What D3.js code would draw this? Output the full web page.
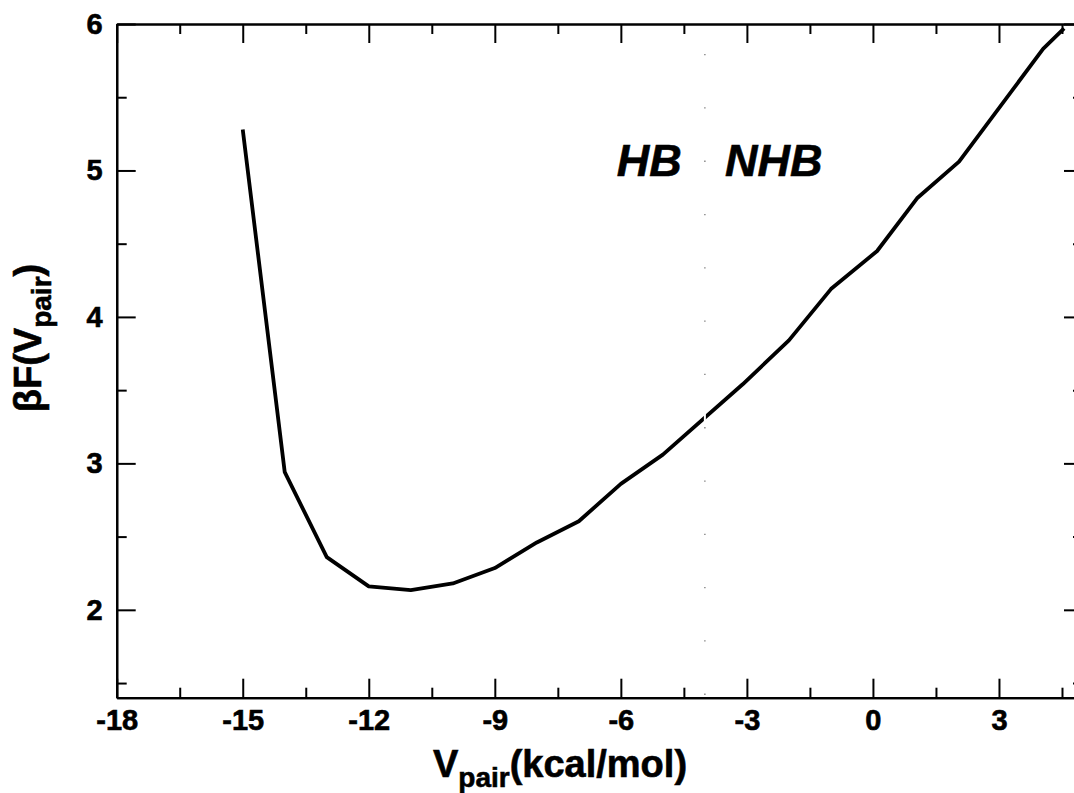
<!DOCTYPE html>
<html>
<head>
<meta charset="utf-8">
<script src="https://cdn.jsdelivr.net/npm/d3@7"></script>
<style>
  html, body { margin: 0; padding: 0; background: #fff; }
  svg { display: block; }
  text { font-family: "Liberation Sans", Arial, Helvetica, sans-serif; font-weight: bold; fill: #000; stroke: #000; stroke-width: 0.6px; }
</style>
</head>
<body>
<svg id="chart" width="1074" height="793"></svg>
<script>
// Pair-interaction free energy profile
const vpair = [-15, -14, -13, -12, -11, -10, -9, -8, -7, -6, -5, -3.1, -2, -1, 0.1, 1.05, 2.05, 4.05, 4.55];
const betaF = [5.28, 2.94, 2.36, 2.16, 2.135, 2.18, 2.285, 2.46, 2.605, 2.86, 3.06, 3.54, 3.84, 4.19, 4.45, 4.81, 5.06, 5.83, 5.97];

const xMajorTicks = [-18, -15, -12, -9, -6, -3, 0, 3];
const xMinorTicks = [-16.5, -13.5, -10.5, -7.5, -4.5, -1.5, 1.5, 4.5];
const yMajorTicks = [2, 3, 4, 5, 6];
const yMinorTicks = [1.5, 2.5, 3.5, 4.5, 5.5];

const xDomain = [-18, 5];
const yDomain = [1.4, 6];
const boundary = -4;           // HB / NHB divide
const regionLabels = [
  { text: "HB",  x: -6.1,  y: 4.96 },
  { text: "NHB", x: -3.52, y: 4.96 }
];

const svg = d3.select("#chart");
const plotLeft = 116.7, plotRight = 1083, plotTop = 24, plotBottom = 697.7;

const x = d3.scaleLinear().domain(xDomain).range([plotLeft, plotRight]);
const y = d3.scaleLinear().domain(yDomain).range([plotBottom, plotTop]);

const major = 19, minor = 10;
const fmt = v => String(v);   // plain hyphen for negatives

// Curve
const line = d3.line().x(d => x(d[0])).y(d => y(d[1]));
svg.append("path")
  .datum(vpair.map((v, i) => [v, betaF[i]]))
  .attr("d", line)
  .attr("fill", "none")
  .attr("stroke", "#000")
  .attr("stroke-width", 3.8)
  .attr("stroke-linejoin", "round");

// Dotted divider between HB and NHB
svg.append("line")
  .attr("x1", x(boundary)).attr("x2", x(boundary))
  .attr("y1", y(yDomain[1])).attr("y2", y(yDomain[0]))
  .attr("stroke", "#fff").attr("stroke-width", 2);
svg.append("line")
  .attr("x1", x(boundary)).attr("x2", x(boundary))
  .attr("y1", y(yDomain[1]) + 30).attr("y2", y(yDomain[0]))
  .attr("stroke", "#777").attr("stroke-width", 1.3)
  .attr("stroke-dasharray", "1.3 52");

// Frame axes, ticks pointing inward on all four sides
function frameAxis(axisGen, tx, ty) {
  const g = svg.append("g").attr("transform", `translate(${tx},${ty})`).call(axisGen);
  g.select(".domain").attr("stroke", "#000").attr("stroke-width", 2.2);
  g.selectAll(".tick line").attr("stroke", "#000").attr("stroke-width", 2);
  g.selectAll(".tick text").attr("font-size", 29).attr("font-family", "Liberation Sans").attr("font-weight", "bold").attr("fill", "#000");
  return g;
}

// bottom
const gb = frameAxis(d3.axisBottom(x).tickValues(xMajorTicks).tickSize(-major).tickSizeOuter(0).tickPadding(32).tickFormat(fmt), 0, plotBottom);
gb.selectAll(".tick text").attr("dy", "0");
frameAxis(d3.axisBottom(x).tickValues(xMinorTicks).tickSize(-minor).tickSizeOuter(0).tickFormat(""), 0, plotBottom);
// top
frameAxis(d3.axisTop(x).tickValues(xMajorTicks).tickSize(-major).tickSizeOuter(0).tickFormat(""), 0, plotTop);
frameAxis(d3.axisTop(x).tickValues(xMinorTicks).tickSize(-minor).tickSizeOuter(0).tickFormat(""), 0, plotTop);
// left
frameAxis(d3.axisLeft(y).tickValues(yMajorTicks).tickSize(-major).tickSizeOuter(0).tickPadding(14).tickFormat(fmt), plotLeft, 0);
frameAxis(d3.axisLeft(y).tickValues(yMinorTicks).tickSize(-minor).tickSizeOuter(0).tickFormat(""), plotLeft, 0);
// right
frameAxis(d3.axisRight(y).tickValues(yMajorTicks).tickSize(-major).tickSizeOuter(0).tickFormat(""), plotRight, 0);
frameAxis(d3.axisRight(y).tickValues(yMinorTicks).tickSize(-minor).tickSizeOuter(0).tickFormat(""), plotRight, 0);

// Region labels
svg.selectAll("text.region")
  .data(regionLabels)
  .join("text")
  .attr("class", "region")
  .attr("x", d => x(d.x))
  .attr("y", d => y(d.y))
  .attr("font-size", 45)
  .attr("font-style", "italic")
  .text(d => d.text);

// Axis titles
const xt = svg.append("text")
  .attr("x", 560).attr("y", 777)
  .attr("text-anchor", "middle")
  .attr("font-size", 38);
xt.append("tspan").text("V");
xt.append("tspan").attr("font-size", 28).attr("dy", 10).text("pair");
xt.append("tspan").attr("dy", -10).text("(kcal/mol)");

const yt = svg.append("text")
  .attr("transform", "translate(41,338) rotate(-90)")
  .attr("text-anchor", "middle")
  .attr("font-size", 38);
yt.append("tspan").text("βF(V");
yt.append("tspan").attr("font-size", 28).attr("dy", 10).text("pair");
yt.append("tspan").attr("dy", -10).text(")");
</script>
</body>
</html>
